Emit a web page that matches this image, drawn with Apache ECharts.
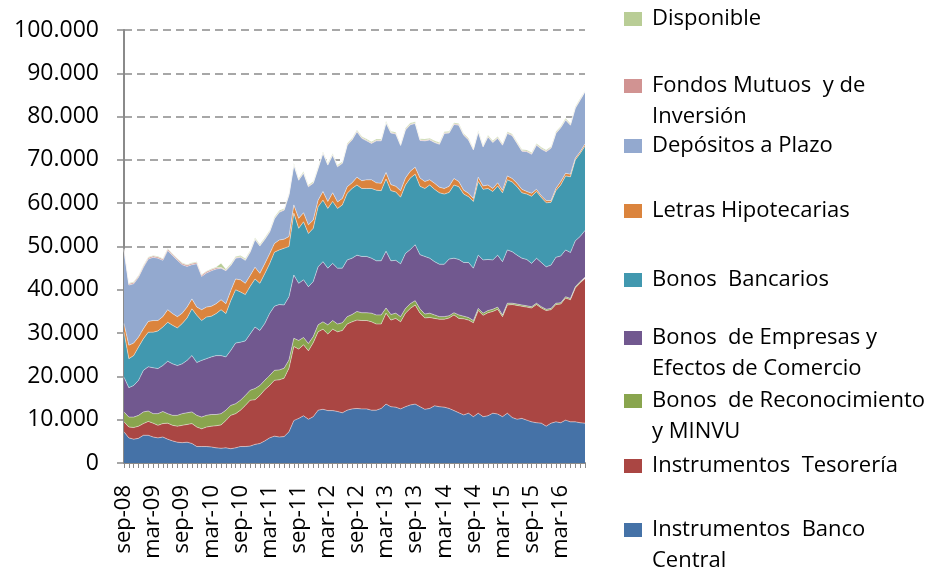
<!DOCTYPE html>
<html>
<head>
<meta charset="utf-8">
<script src="https://cdn.jsdelivr.net/npm/echarts@6/dist/echarts.min.js"></script>
<style>
  html, body { margin: 0; padding: 0; background: #fff; }
  #chart { width: 933px; height: 572px; }
</style>
</head>
<body>
<div id="chart"></div>
<script>
// meses (sep-08 .. ago-16)
const categories = [
  'sep-08','oct-08','nov-08','dic-08',
  'ene-09','feb-09','mar-09','abr-09','may-09','jun-09','jul-09','ago-09','sep-09','oct-09','nov-09','dic-09',
  'ene-10','feb-10','mar-10','abr-10','may-10','jun-10','jul-10','ago-10','sep-10','oct-10','nov-10','dic-10',
  'ene-11','feb-11','mar-11','abr-11','may-11','jun-11','jul-11','ago-11','sep-11','oct-11','nov-11','dic-11',
  'ene-12','feb-12','mar-12','abr-12','may-12','jun-12','jul-12','ago-12','sep-12','oct-12','nov-12','dic-12',
  'ene-13','feb-13','mar-13','abr-13','may-13','jun-13','jul-13','ago-13','sep-13','oct-13','nov-13','dic-13',
  'ene-14','feb-14','mar-14','abr-14','may-14','jun-14','jul-14','ago-14','sep-14','oct-14','nov-14','dic-14',
  'ene-15','feb-15','mar-15','abr-15','may-15','jun-15','jul-15','ago-15','sep-15','oct-15','nov-15','dic-15',
  'ene-16','feb-16','mar-16','abr-16','may-16','jun-16','jul-16','ago-16'
];

const bancoCentral = [
  7200,5800,5500,5700,6400,6400,6000,5800,6000,5500,
  5100,4800,4700,4800,4500,3800,3800,3800,3700,3500,
  3400,3500,3300,3500,3800,3800,3900,4300,4500,5100,
  5800,6200,6000,6100,7200,9800,10300,10900,10100,10700,
  12200,12400,12100,12100,11900,11600,12200,12500,12600,12500,
  12500,12200,12200,12600,13600,13000,12900,12500,13000,
  13400,13600,13000,12400,12600,13200,13000,12900,12600,12100,
  11600,11100,11500,10700,11500,10700,10900,11500,11300,10700,
  11500,10500,10100,10300,9900,9500,9300,9200,8500,9200,
  9500,9300,9900,9500,9500,9300,9200
];
const tesoreria = [
  2300,2500,2700,2800,2700,3200,3200,2900,3100,3700,
  3600,3700,4000,4100,4600,4500,4100,4500,4800,5100,
  5400,6300,7700,7900,8400,9500,10600,10300,11100,11800,
  12100,12900,13200,13500,14700,17100,16000,16400,15800,17100,
  18100,18500,17700,18800,18400,19000,19900,20100,20400,20400,
  20400,20400,19900,19500,21000,20000,20500,20100,21600,
  22300,22900,21600,21100,21000,20200,20200,20300,20900,22100,
  21800,22200,21500,21700,23700,23400,23800,23500,24200,23100,
  25000,26100,26300,25900,26100,26300,27300,26600,26700,26200,
  27100,27400,28200,28200,30900,32300,33400
];
const reconocimiento = [
  2300,2300,2400,2500,2700,2400,2200,2700,2800,2200,
  2300,2500,2700,2700,2700,2700,2700,2700,2700,2600,
  2600,2400,2300,2300,2300,2300,2300,2600,2300,2200,
  2300,2300,2300,2300,1900,1900,2000,1700,1700,1400,
  1600,1700,2100,2000,1800,1800,1700,1700,2000,1800,
  1800,2000,2100,2100,1200,1300,1200,1200,1100,
  1100,1000,1000,900,1000,800,600,600,500,500,
  800,600,600,500,500,500,500,500,500,400,
  400,300,300,300,300,300,300,300,300,300,
  300,300,300,300,300,300,300
];
const empresas = [
  8000,6800,7300,8100,9600,10200,10600,10400,10600,12100,
  11900,11500,11500,12100,13000,12200,13100,13100,13300,13600,
  13400,12300,12700,14000,13400,12600,13000,14200,12700,13100,
  14300,14800,15100,14600,14600,14600,13200,13300,13100,12700,
  13400,13900,13100,13200,12900,12600,13100,13000,13000,13000,
  13000,12700,12500,12500,13100,12400,12200,12200,12700,
  12500,12900,12500,13300,12700,12300,12100,12100,13100,12600,
  12800,12400,12700,12100,12300,12300,11800,11400,12000,12300,
  12300,11900,11300,10800,10700,10000,10400,10200,9800,10000,
  10600,10800,10800,10600,10600,10400,10800
];
const bancarios = [
  10400,6700,6900,7700,7300,8000,8200,8700,8900,9000,
  8900,8700,9300,9800,10800,10900,9200,9600,9400,9700,
  10600,10000,11500,12300,11600,10700,11000,11100,10900,11500,
  11500,12500,12600,13100,11600,14300,12700,13400,12300,12300,
  13900,14200,13800,14300,13800,14600,15400,16100,16200,15700,
  15700,16100,16300,16200,16700,16200,15800,15400,15800,
  16500,16300,15800,15700,16900,16700,16500,16200,15400,16900,
  16800,15800,15200,15400,17000,16300,16400,15800,16000,15900,
  16200,16100,15800,15100,15100,15500,15400,15000,14800,14500,
  15400,16400,17100,17500,18700,19200,19500
];
const letras = [
  2000,3100,2900,2300,2300,2500,2700,2400,2400,2900,
  2700,2600,2400,2500,2300,1900,2500,2300,2300,2300,
  2300,2300,2300,2500,2800,2600,2500,2700,2300,2300,
  2300,2000,2300,2100,2300,1900,2300,2100,2000,1900,
  1500,2000,1600,2000,1500,1500,1500,1300,1800,1800,
  2000,2000,1700,1700,1500,1400,1300,1500,1600,
  1600,1600,1900,1600,1200,1400,1300,1300,1400,1500,
  1200,900,800,700,1000,800,800,700,700,600,
  900,800,800,800,600,700,500,400,500,400,
  500,800,600,600,400,400,500
];
const depositos = [
  16900,13900,13700,13800,14200,14400,14600,14400,13000,13700,
  13400,13000,11200,9400,7900,10000,7700,7900,8200,8000,
  7300,7600,5800,4800,5200,5300,5400,6400,6300,5600,
  5000,5700,6400,6700,9600,9200,8800,9100,8800,8500,
  7300,8800,8400,8700,8100,8100,9600,9900,10500,9800,
  9000,8400,9700,9800,11400,11900,12100,10400,11100,
  10700,10100,8700,9400,9200,9400,9900,12700,12300,12500,
  13000,12700,12300,11200,10400,9000,11100,10600,10300,10400,
  9800,9900,9200,8800,9200,9000,10200,10800,11300,12100,
  12700,12400,12300,11300,11500,11900,12000
];
const fondos = [
  300,300,300,300,300,300,300,300,300,300,
  300,300,300,300,300,300,300,300,300,300,
  150,150,150,150,150,150,150,150,150,150,
  150,150,150,150,150,150,150,150,150,150,
  150,150,150,150,150,150,150,150,150,150,
  150,150,150,150,150,150,150,150,150,
  150,150,150,150,150,150,150,150,150,150,
  150,150,150,150,150,150,150,150,150,150,
  150,150,150,150,150,150,150,150,150,150,
  150,150,150,150,150,150,150
];
const disponible = [
  150,150,150,150,150,150,150,150,150,150,
  150,150,150,150,150,150,150,150,150,150,
  1000,250,250,250,250,250,250,250,250,250,
  250,250,250,250,250,250,250,250,250,250,
  250,250,250,250,250,250,250,250,250,250,
  250,250,250,250,250,250,250,250,250,
  250,250,250,250,250,250,250,250,250,250,
  250,250,250,250,250,250,250,250,250,250,
  250,250,250,250,250,250,250,250,250,250,
  250,250,250,250,250,250,250
];

// series de abajo hacia arriba
const seriesDefs = [
  { name: 'Instrumentos Banco Central', data: bancoCentral, color: '#4572A7' },
  { name: 'Instrumentos Tesorería', data: tesoreria, color: '#AA4643' },
  { name: 'Bonos de Reconocimiento y MINVU', data: reconocimiento, color: '#89A54E' },
  { name: 'Bonos de Empresas y Efectos de Comercio', data: empresas, color: '#71588F' },
  { name: 'Bonos Bancarios', data: bancarios, color: '#4198AF' },
  { name: 'Letras Hipotecarias', data: letras, color: '#DB843D' },
  { name: 'Depósitos a Plazo', data: depositos, color: '#93A9CF' },
  { name: 'Fondos Mutuos y de Inversión', data: fondos, color: '#D19392' },
  { name: 'Disponible', data: disponible, color: '#B9CD96' }
];

// leyenda: texto y centro vertical del cuadrito
const legendItems = [
  { name: 'Disponible', text: 'Disponible', c: 19 },
  { name: 'Fondos Mutuos y de Inversión', text: 'Fondos Mutuos  y de\nInversión', c: 86 },
  { name: 'Depósitos a Plazo', text: 'Depósitos a Plazo', c: 146 },
  { name: 'Letras Hipotecarias', text: 'Letras Hipotecarias', c: 211 },
  { name: 'Bonos Bancarios', text: 'Bonos  Bancarios', c: 280 },
  { name: 'Bonos de Empresas y Efectos de Comercio', text: 'Bonos  de Empresas y\nEfectos de Comercio', c: 338 },
  { name: 'Bonos de Reconocimiento y MINVU', text: 'Bonos  de Reconocimiento\ny MINVU', c: 401 },
  { name: 'Instrumentos Tesorería', text: 'Instrumentos  Tesorería', c: 466 },
  { name: 'Instrumentos Banco Central', text: 'Instrumentos  Banco\nCentral', c: 530 }
];

const FONT = 'Open Sans';
const LH = 31;
const axisColor = '#8a8a8a';

function fmt(v) {
  return String(v).replace(/\B(?=(\d{3})+(?!\d))/g, '.');
}

const chart = echarts.init(document.getElementById('chart'));

const option = {
  animation: false,
  backgroundColor: '#fff',
  grid: { left: 124, top: 30, width: 461, height: 433 },
  legend: legendItems.map(it => {
    const multi = it.text.indexOf('\n') >= 0;
    // linea en blanco arriba para que el cuadrito quede junto a la primera linea
    const label = multi ? '\n' + it.text : it.text;
    return {
      data: [it.name],
      left: 624,
      top: multi ? it.c - 1.5 * LH : it.c - LH / 2,
      padding: 0,
      itemWidth: 18,
      itemHeight: 14,
      selectedMode: false,
      icon: 'rect',
      formatter: () => label,
      textStyle: {
        fontFamily: FONT,
        fontSize: 22,
        color: '#000',
        lineHeight: LH,
        padding: [0, 0, 0, 5]
      }
    };
  }),
  xAxis: {
    type: 'category',
    data: categories,
    boundaryGap: false,
    axisLine: { lineStyle: { color: axisColor, width: 2 } },
    axisTick: { show: true, interval: 0, length: 5, lineStyle: { color: axisColor, width: 1 } },
    axisLabel: {
      interval: 5,
      rotate: 90,
      margin: 22,
      fontFamily: FONT,
      fontSize: 22,
      color: '#000'
    },
    splitLine: { show: false }
  },
  yAxis: {
    type: 'value',
    min: 0,
    max: 100000,
    interval: 10000,
    axisLine: { show: true, lineStyle: { color: axisColor, width: 2 } },
    axisTick: { show: true, length: 7, lineStyle: { color: axisColor, width: 1.5 } },
    axisLabel: {
      margin: 25,
      fontFamily: FONT,
      fontSize: 23,
      color: '#000',
      formatter: v => fmt(v)
    },
    splitLine: {
      show: true,
      lineStyle: { color: axisColor, width: 1.5, type: [8, 5] }
    }
  },
  series: seriesDefs.map(s => ({
    name: s.name,
    type: 'line',
    stack: 'total',
    data: s.data,
    color: s.color,
    symbol: 'none',
    lineStyle: { width: 0.8, color: 'rgba(255,255,255,0.55)' },
    areaStyle: { color: s.color, opacity: 1 },
    emphasis: { disabled: true }
  }))
};

chart.setOption(option);
</script>
</body>
</html>
